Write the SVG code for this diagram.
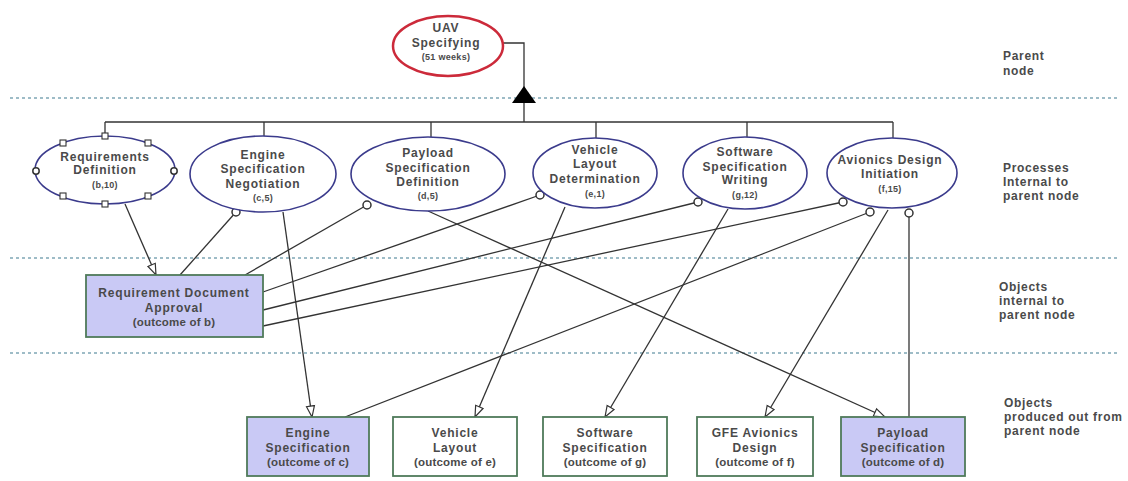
<svg xmlns="http://www.w3.org/2000/svg" width="1128" height="481" viewBox="0 0 1128 481">
<style>
.t{font-family:"Liberation Sans",Arial,sans-serif;font-size:12px;font-weight:bold;fill:#4a4a4a;text-anchor:middle;letter-spacing:0.8px}
.s{font-size:9px;letter-spacing:0.3px}
.o{letter-spacing:0.2px;font-size:11.5px}
.l{font-family:"Liberation Sans",Arial,sans-serif;font-size:12px;font-weight:bold;fill:#4a4a4a;letter-spacing:0.7px}
.proc{fill:#fff;stroke:#3b3b8c;stroke-width:1.6}
.box{stroke:#4f7a5a;stroke-width:1.8}
.in{fill:#c9c9f5}
.out{fill:#fff}
.dash{stroke:#7fa6b5;stroke-width:1.6;stroke-dasharray:3 3;fill:none}
.c{stroke:#333;stroke-width:1.3;fill:none}
.pt{fill:#fff;stroke:#333;stroke-width:1.5}
.sq{fill:#fff;stroke:#333;stroke-width:1.1}
</style>
<defs>
<marker id="arr" markerUnits="userSpaceOnUse" markerWidth="14" markerHeight="12" refX="12" refY="5" orient="auto" viewBox="0 0 14 10">
<path d="M1,1 L12,5 L1,9 Z" fill="#fff" stroke="#333" stroke-width="1.2"/>
</marker>
</defs>
<rect width="1128" height="481" fill="#fff"/>
<g id="bands">
<line class="dash" x1="10" y1="98" x2="1118" y2="98"/>
<line class="dash" x1="10" y1="258" x2="1118" y2="258"/>
<line class="dash" x1="10" y1="353" x2="1118" y2="353"/>
</g>
<g id="connectors">
<polyline class="c" points="503,43 524,43 524,122"/>
<path d="M524,86 L536,103 L512,103 Z" fill="#000"/>
<line class="c" x1="105" y1="122" x2="893" y2="122"/>
<line class="c" x1="105" y1="122" x2="105" y2="135"/>
<line class="c" x1="264" y1="122" x2="264" y2="137"/>
<line class="c" x1="431" y1="122" x2="431" y2="137"/>
<line class="c" x1="596" y1="122" x2="596" y2="138"/>
<line class="c" x1="747" y1="122" x2="747" y2="138"/>
<line class="c" x1="893" y1="122" x2="893" y2="138"/>
<line class="c" x1="125" y1="204" x2="156" y2="275" marker-end="url(#arr)"/>
<line class="c" x1="236" y1="212" x2="180" y2="275"/>
<line class="c" x1="367" y1="205" x2="245" y2="275"/>
<line class="c" x1="540" y1="195" x2="263" y2="292"/>
<line class="c" x1="698" y1="202" x2="263" y2="310"/>
<line class="c" x1="843" y1="202" x2="263" y2="326"/>
<line class="c" x1="870" y1="212" x2="345" y2="417"/>
<line class="c" x1="888" y1="210" x2="765" y2="417" marker-end="url(#arr)"/>
<line class="c" x1="909" y1="213" x2="909" y2="417"/>
<line class="c" x1="283" y1="212" x2="312" y2="417" marker-end="url(#arr)"/>
<line class="c" x1="428" y1="211" x2="885" y2="417" marker-end="url(#arr)"/>
<line class="c" x1="565" y1="207" x2="475" y2="417" marker-end="url(#arr)"/>
<line class="c" x1="728" y1="209" x2="605" y2="417" marker-end="url(#arr)"/>
<circle class="pt" cx="236" cy="212" r="4"/>
<circle class="pt" cx="367" cy="205" r="4"/>
<circle class="pt" cx="540" cy="195" r="4"/>
<circle class="pt" cx="698" cy="202" r="4"/>
<circle class="pt" cx="843" cy="202" r="4"/>
<circle class="pt" cx="870" cy="212" r="4"/>
<circle class="pt" cx="909" cy="213" r="4"/>
</g>
<g id="parent">
<ellipse cx="448" cy="46" rx="55" ry="30" fill="#fff" stroke="#cc2a3a" stroke-width="2.5"/>
<text class="t" x="446" y="32">UAV</text>
<text class="t" x="446" y="47">Specifying</text>
<text class="t s" x="446" y="60">(51 weeks)</text>
</g>
<g id="reqdef">
<ellipse class="proc" cx="105" cy="170" rx="70" ry="34"/>
<text class="t" x="105" y="161">Requirements</text>
<text class="t" x="105" y="174">Definition</text>
<text class="t s" x="105" y="188">(b,10)</text>
<rect class="sq" x="102" y="133" width="6" height="6"/>
<rect class="sq" x="60" y="140" width="6" height="6"/>
<rect class="sq" x="145" y="140" width="6" height="6"/>
<rect class="sq" x="60" y="193" width="6" height="6"/>
<rect class="sq" x="145" y="193" width="6" height="6"/>
<rect class="sq" x="102" y="201" width="6" height="6"/>
<circle class="pt" cx="36" cy="171" r="3.2"/>
<circle class="pt" cx="174" cy="171" r="3.2"/>
</g>
<g id="engneg">
<ellipse class="proc" cx="263" cy="174" rx="73" ry="38"/>
<text class="t" x="263" y="159">Engine</text>
<text class="t" x="263" y="173">Specification</text>
<text class="t" x="263" y="188">Negotiation</text>
<text class="t s" x="263" y="201">(c,5)</text>
</g>
<g id="paydef">
<ellipse class="proc" cx="428" cy="174" rx="77" ry="37"/>
<text class="t" x="428" y="157">Payload</text>
<text class="t" x="428" y="172">Specification</text>
<text class="t" x="428" y="186">Definition</text>
<text class="t s" x="428" y="199">(d,5)</text>
</g>
<g id="vehdet">
<ellipse class="proc" cx="595" cy="173" rx="62" ry="35"/>
<text class="t" x="595" y="154">Vehicle</text>
<text class="t" x="595" y="168">Layout</text>
<text class="t" x="595" y="183">Determination</text>
<text class="t s" x="595" y="197">(e,1)</text>
</g>
<g id="swwrite">
<ellipse class="proc" cx="745" cy="173" rx="62" ry="36"/>
<text class="t" x="745" y="156">Software</text>
<text class="t" x="745" y="171">Specification</text>
<text class="t" x="745" y="184">Writing</text>
<text class="t s" x="745" y="198">(g,12)</text>
</g>
<g id="avinit">
<ellipse class="proc" cx="892" cy="173" rx="65" ry="35"/>
<text class="t" x="890" y="164">Avionics Design</text>
<text class="t" x="890" y="178">Initiation</text>
<text class="t s" x="890" y="192">(f,15)</text>
</g>
<g id="rda">
<rect class="box in" x="86" y="275" width="177" height="62"/>
<text class="t" x="174" y="297">Requirement Document</text>
<text class="t" x="174" y="312">Approval</text>
<text class="t o" x="174" y="326">(outcome of b)</text>
</g>
<g id="engspec">
<rect class="box in" x="247" y="417" width="122" height="59"/>
<text class="t" x="308" y="437">Engine</text>
<text class="t" x="308" y="452">Specification</text>
<text class="t o" x="308" y="466">(outcome of c)</text>
</g>
<g id="vehlay">
<rect class="box out" x="393" y="417" width="124" height="59"/>
<text class="t" x="455" y="437">Vehicle</text>
<text class="t" x="455" y="452">Layout</text>
<text class="t o" x="455" y="466">(outcome of e)</text>
</g>
<g id="swspec">
<rect class="box out" x="543" y="417" width="124" height="59"/>
<text class="t" x="605" y="437">Software</text>
<text class="t" x="605" y="452">Specification</text>
<text class="t o" x="605" y="466">(outcome of g)</text>
</g>
<g id="gfe">
<rect class="box out" x="697" y="417" width="116" height="59"/>
<text class="t" x="755" y="437">GFE Avionics</text>
<text class="t" x="755" y="452">Design</text>
<text class="t o" x="755" y="466">(outcome of f)</text>
</g>
<g id="payspec">
<rect class="box in" x="841" y="417" width="124" height="59"/>
<text class="t" x="903" y="437">Payload</text>
<text class="t" x="903" y="452">Specification</text>
<text class="t o" x="903" y="466">(outcome of d)</text>
</g>
<g id="legend">
<text class="l" x="1003" y="60">Parent</text>
<text class="l" x="1003" y="75">node</text>
<text class="l" x="1003" y="172">Processes</text>
<text class="l" x="1003" y="186">Internal to</text>
<text class="l" x="1003" y="200">parent node</text>
<text class="l" x="999" y="291">Objects</text>
<text class="l" x="999" y="305">internal to</text>
<text class="l" x="999" y="319">parent node</text>
<text class="l" x="1004" y="407">Objects</text>
<text class="l" x="1004" y="421">produced out from</text>
<text class="l" x="1004" y="435">parent node</text>
</g>
</svg>
